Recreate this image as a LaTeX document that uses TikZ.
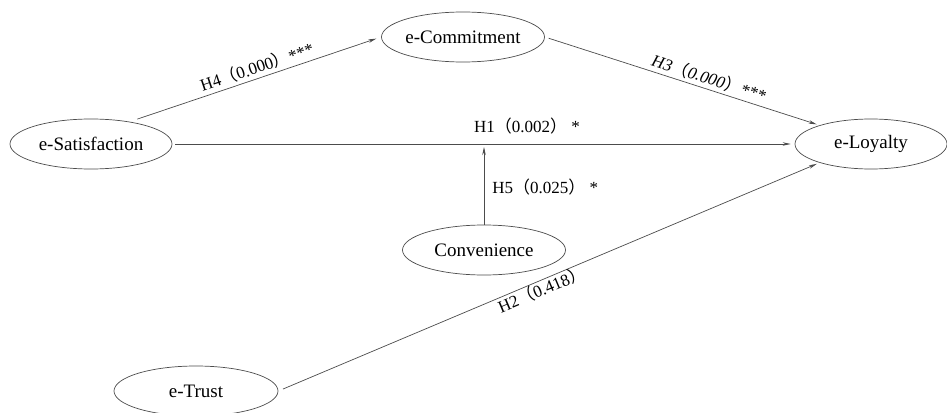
\documentclass[tikz,border=0pt]{standalone}
\usepackage{fontspec}
\setmainfont{Liberation Serif}
\newfontfamily\cjkfont{Noto Sans CJK SC}
\usetikzlibrary{shapes.geometric,arrows.meta}
\newcommand{\lparfw}{{\cjkfont （}}
\newcommand{\rparfw}{{\cjkfont ）}}
\tikzset{
  latent/.style={ellipse, draw=black!70, line width=0.7pt, minimum width=163pt,
    minimum height=50pt, inner sep=0pt, font=\fontsize{19}{22}\selectfont},
  pathline/.style={draw=black!70, line width=0.7pt, -{Stealth[length=8pt,width=3.5pt]}},
  lab/.style={font=\fontsize{17}{20}\selectfont, inner sep=0pt, text=black}
}
\begin{document}
\begin{tikzpicture}[x=1pt,y=-1pt]
\useasboundingbox (0,0) rectangle (947,412);
\fill[white] (0,0) rectangle (947,412);

\node[latent, minimum width=162pt] (sat) at (91,144) {e-Satisfaction};
\node[latent] (com) at (463,37) {e-Commitment};
\node[latent, minimum width=152pt] (loy) at (871,144) {e-Loyalty};
\node[latent] (conv) at (484,250) {Convenience};
\node[latent, minimum width=164pt] (tru) at (196,391) {e-Trust};
\coordinate (h1pt) at (484,147);

\draw[pathline, shorten <=8pt, shorten >=5pt] (sat.30) -- (com.west)
  node[lab, sloped, pos=0.52, anchor=base, yshift=5pt] (l4) {H4\lparfw 0.000\rparfw ***};
\draw[pathline, shorten <=4pt, shorten >=3pt] (com.east) -- (loy.160)
  node[lab, sloped, pos=0.585, anchor=base, yshift=5pt, font=\fontsize{17}{20}\selectfont\itshape] (l3) {H3\lparfw 0.000\rparfw ***};
\draw[pathline, shorten <=3pt, shorten >=4pt] (sat.east) -- (loy.west)
  node[lab, pos=0.57, anchor=base, yshift=12pt] (l1) {H1\lparfw 0.002\rparfw\ *};
\draw[pathline] (conv.north) -- (h1pt)
  node[lab, pos=0.4, anchor=base west, xshift=8pt] (l5) {H5\lparfw 0.025\rparfw\ *};
\draw[pathline, shorten <=5pt, shorten >=3pt] (tru.east) -- (loy.200)
  node[lab, sloped, pos=0.48, anchor=base, yshift=-15pt] (l2) {H2\lparfw 0.418\rparfw};
\end{tikzpicture}
\end{document}
